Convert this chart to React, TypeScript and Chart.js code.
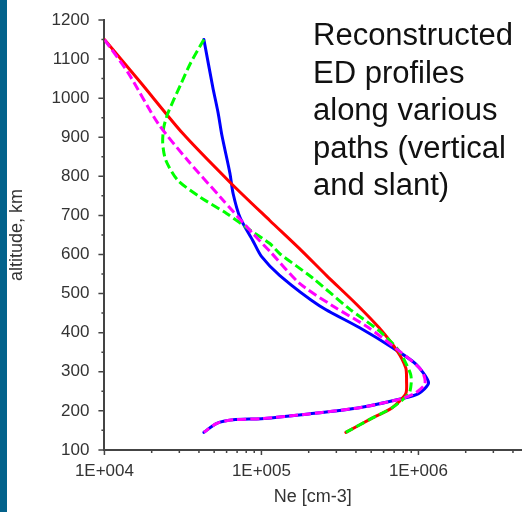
import React, { useEffect, useRef } from "react";
import { Chart, registerables } from "chart.js";

Chart.register(...registerables);

// ---- axis / tick data ----
const xMajorTicks = [1e4, 1e5, 1e6];
const xTickLabels = ["1E+004", "1E+005", "1E+006"];
const xMin = 1e4;
const xMax = 4.5e6;
const yMin = 100;
const yMax = 1200;
const xTitle = "Ne [cm-3]";
const yTitle = "altitude, km";
const noteLines = ["Reconstructed", "ED profiles", "along various", "paths (vertical", "and slant)"];

// ---- series (Ne in cm-3, altitude in km) ----
const redNe = [1.0e4, 1.7e4, 3.15e4, 6.3e4, 1.13e5, 1.8e5, 2.6e5, 4.0e5, 5.6e5, 7.3e5, 8.3e5, 8.4e5, 8.3e5, 6.8e5, 5.0e5, 3.45e5];
const redAlt = [1150, 1040, 910, 785, 687, 610, 546, 474, 413, 354, 310, 277, 244, 208, 180, 145];

const blueNe = [4.3e4, 4.9e4, 5.3e4, 5.6e4, 6.3e4, 6.6e4, 7.3e4, 8.8e4, 1.0e5, 1.31e5, 2.34e5, 4.2e5, 6.8e5, 9.6e5, 1.16e6, 1.0e6, 7.8e5, 4.2e5, 2.0e5, 1.0e5, 6.6e4, 5.2e4, 4.3e4];
const blueAlt = [1150, 1028, 962, 905, 808, 756, 695, 636, 595, 546, 469, 413, 362, 320, 272, 244, 231, 208, 192, 180, 177, 168, 145];

const greenNe = [4.3e4, 3.54e4, 3.06e4, 2.54e4, 2.39e4, 2.35e4, 2.46e4, 2.93e4, 4.1e4, 6.0e4, 8.5e4, 1.13e5, 1.31e5, 2.1e5, 3.6e5, 5.6e5, 7.5e5, 8.9e5, 9.0e5, 8.7e5, 6.8e5, 5.0e5, 3.45e5];
const greenAlt = [1150, 1090, 1035, 962, 926, 885, 841, 790, 746, 705, 662, 628, 602, 541, 462, 405, 354, 295, 272, 244, 208, 180, 145];

const magentaNe = [1.0e4, 1.42e4, 2.19e4, 3.39e4, 5.5e4, 8.8e4, 1.15e5, 1.75e5, 2.83e5, 4.8e5, 7.5e5, 1.05e6, 1.1e6, 9.6e5, 7.8e5, 4.2e5, 2.0e5, 1.0e5, 6.6e4, 5.2e4, 4.3e4];
const magentaAlt = [1150, 1064, 936, 841, 746, 654, 605, 526, 469, 413, 354, 303, 269, 246, 231, 208, 192, 180, 177, 168, 145];

const axisColor = "#444444";
const textColor = "#333333";

function pts(xs: number[], ys: number[]) {
  return xs.map((x, i) => ({ x, y: ys[i] }));
}

const tickMarks = {
  id: "tickMarks",
  afterDraw(chart: any) {
    const ctx = chart.ctx;
    const xs = chart.scales.x;
    const ys = chart.scales.y;
    ctx.save();
    ctx.strokeStyle = axisColor;
    ctx.lineWidth = 1.5;
    ctx.beginPath();
    xs.ticks.forEach((t: any) => {
      const v = t.value;
      if (v < xs.min - 1e-6 || v > xs.max + 1e-6) return;
      const e = Math.floor(Math.log10(v) + 1e-9);
      const m = v / Math.pow(10, e);
      if (Math.abs(m - Math.round(m)) > 1e-6) return;
      const major = Math.abs(m - 1) < 1e-6;
      const px = xs.getPixelForValue(v);
      ctx.moveTo(px, xs.top);
      ctx.lineTo(px, xs.top + (major ? 5 : 3));
    });
    ys.ticks.forEach((t: any) => {
      const v = t.value;
      const major = Math.abs(v % 100) < 1e-6;
      const py = ys.getPixelForValue(v);
      ctx.moveTo(ys.right, py);
      ctx.lineTo(ys.right - (major ? 6 : 3), py);
    });
    ctx.stroke();
    ctx.restore();
  },
};

export default function App() {
  const ref = useRef<HTMLCanvasElement>(null);
  useEffect(() => {
    if (!ref.current) return;
    Chart.defaults.font.family = "'Liberation Sans', Arial, sans-serif";
    const common = { pointRadius: 0, borderWidth: 3, tension: 0.25, fill: false, borderCapStyle: "round" as const, borderJoinStyle: "round" as const, showLine: true };
    const chart = new Chart(ref.current, {
      type: "scatter",
      data: {
        datasets: [
          { ...common, label: "magenta", data: pts(magentaNe, magentaAlt), borderColor: "#FF00FF", borderDash: [9, 4], borderCapStyle: "butt" },
          { ...common, label: "green", data: pts(greenNe, greenAlt), borderColor: "#00FF00", borderDash: [9, 4], borderCapStyle: "butt" },
          { ...common, label: "red", data: pts(redNe, redAlt), borderColor: "#FF0000" },
          { ...common, label: "blue", data: pts(blueNe, blueAlt), borderColor: "#0000FF" },
        ],
      },
      options: {
        animation: false,
        responsive: false,
        devicePixelRatio: 1,
        layout: { padding: { top: 20, right: 2, left: 6, bottom: 0 } },
        plugins: { legend: { display: false }, tooltip: { enabled: false } },
        scales: {
          x: {
            type: "logarithmic",
            min: xMin,
            max: xMax,
            border: { display: true, color: axisColor, width: 2 },
            grid: { display: true, drawOnChartArea: false, drawTicks: true, tickLength: 6, color: "transparent", tickColor: "transparent" },
            ticks: {
              autoSkip: false,
              maxRotation: 0,
              padding: 5,
              color: textColor,
              font: { size: 17 },
              callback: (v: any) => {
                const i = xMajorTicks.findIndex((m) => Math.abs(m - Number(v)) / m < 1e-9);
                return i >= 0 ? xTickLabels[i] : "";
              },
            },
            title: { display: true, text: xTitle, color: textColor, font: { size: 18, lineHeight: 1.15 }, padding: { top: 0, bottom: 5 } },
          },
          y: {
            type: "linear",
            min: yMin,
            max: yMax,
            border: { display: true, color: axisColor, width: 2 },
            grid: { display: true, drawOnChartArea: false, drawTicks: true, tickLength: 6, color: "transparent", tickColor: "transparent" },
            ticks: {
              stepSize: 50,
              autoSkip: false,
              padding: 9,
              color: textColor,
              font: { size: 17 },
              callback: (v: any) => (Math.abs(Number(v) % 100) < 1e-6 ? String(v) : ""),
            },
            title: { display: true, text: yTitle, color: textColor, font: { size: 18 }, padding: { top: 0, bottom: 15 } },
          },
        },
      },
      plugins: [tickMarks],
    });
    return () => chart.destroy();
  }, []);

  return (
    <div style={{ position: "absolute", left: 0, top: 0, width: 526, height: 512, background: "#ffffff", overflow: "hidden" }}>
      <div style={{ position: "absolute", left: 0, top: 0, width: 7, height: 512, background: "#03628B" }} />
      <canvas ref={ref} width={526} height={512} style={{ position: "absolute", left: 0, top: 0 }} />
      <div
        style={{
          position: "absolute",
          left: 313,
          top: 16,
          fontFamily: "'Liberation Sans', Arial, sans-serif",
          fontSize: 31,
          lineHeight: "37.5px",
          color: "#111111",
          whiteSpace: "nowrap",
        }}
      >
        {noteLines.map((l, i) => (
          <div key={i}>{l}</div>
        ))}
      </div>
    </div>
  );
}
